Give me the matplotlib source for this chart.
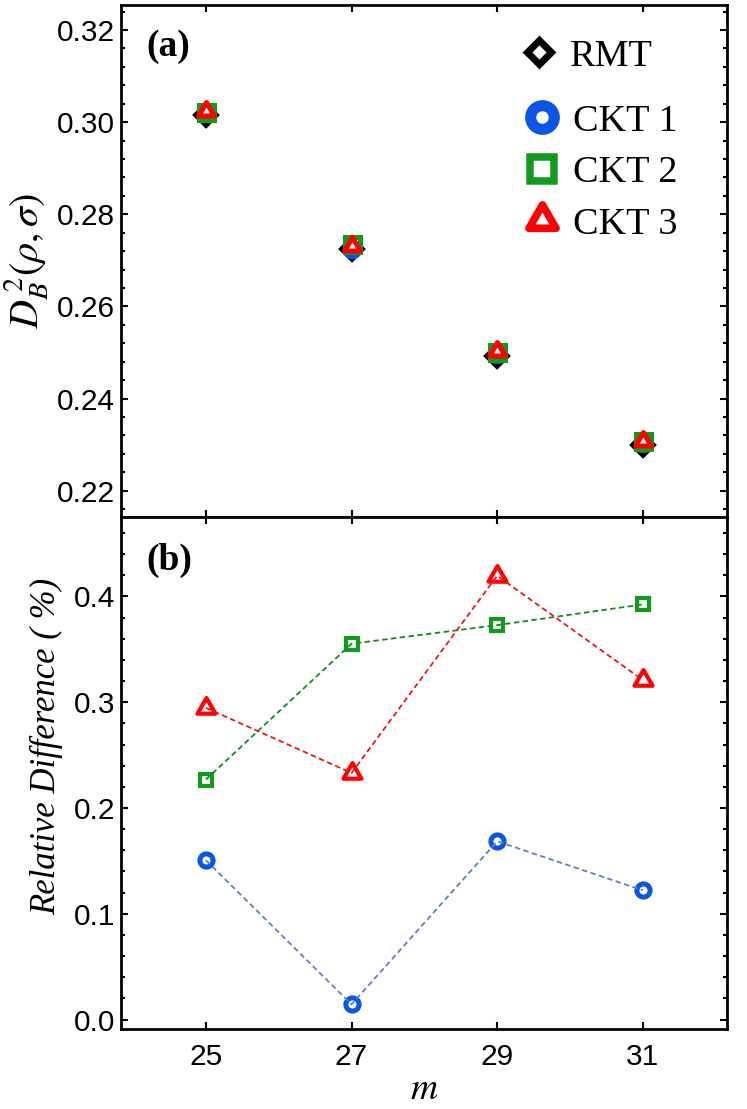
import matplotlib
matplotlib.use("Agg")
import matplotlib.pyplot as plt
from matplotlib.lines import Line2D
from matplotlib.markers import MarkerStyle
from matplotlib.path import Path
from matplotlib.ticker import AutoMinorLocator, FixedLocator

# ---------------- data ----------------
m_values = [25, 27, 29, 31]

# panel (a): squared Bures distance
rmt_db2 = [0.3016, 0.2725, 0.2493, 0.2300]
ckt1_db2 = [0.3021, 0.2725, 0.2497, 0.2303]
ckt2_db2 = [0.3023, 0.2735, 0.2502, 0.2309]
ckt3_db2 = [0.3025, 0.2731, 0.2503, 0.2307]

# panel (b): relative difference (%)
ckt1_rel = [0.1506, 0.0143, 0.1685, 0.1222]
ckt2_rel = [0.2269, 0.3553, 0.3729, 0.3925]
ckt3_rel = [0.2947, 0.2331, 0.4196, 0.3210]

labels = ["RMT", "CKT 1", "CKT 2", "CKT 3"]
xticks = [25, 27, 29, 31]
yticks_a = [0.22, 0.24, 0.26, 0.28, 0.30, 0.32]
yticks_b = [0.0, 0.1, 0.2, 0.3, 0.4]

# ---------------- style ----------------
plt.rcParams["mathtext.fontset"] = "stix"
TICKFONT = "Liberation Sans"
SERIF = "Liberation Serif"

c_black = "#000000"
c_blue = "#0a55e6"
c_blue_line = "#5b80c0"
c_green = "#129a1e"
c_green_line = "#128a1a"
c_red = "#ff0000"
c_red_line = "#f01414"

tri_path = Path([(-1.0, -0.577), (1.0, -0.577), (0.0, 1.155), (-1.0, -0.577)],
                [Path.MOVETO, Path.LINETO, Path.LINETO, Path.CLOSEPOLY])
tri = MarkerStyle(tri_path, joinstyle="miter")
sq = MarkerStyle("s", joinstyle="miter")
dia = MarkerStyle("D", joinstyle="miter")

fig = plt.figure(figsize=(7.47, 11.09), dpi=100)
ax_a = fig.add_axes([0.1616, 0.5334, 0.8120, 0.4624])
ax_b = fig.add_axes([0.1616, 0.0719, 0.8120, 0.4615])

for ax in (ax_a, ax_b):
    for sp in ax.spines.values():
        sp.set_linewidth(2.0)
    ax.set_xlim(23.83, 32.16)
    ax.xaxis.set_major_locator(FixedLocator(xticks))
    ax.tick_params(which="both", direction="in", top=True, right=True,
                   width=1.5, labelsize=21.5, pad=4)
    ax.tick_params(which="major", length=5)
    ax.tick_params(which="minor", length=3.2)
    ax.yaxis.set_minor_locator(AutoMinorLocator(5))

# ---- panel (a) ----
ax_a.set_ylim(0.2142, 0.3255)
ax_a.set_yticks(yticks_a)
ax_a.set_yticklabels([f"{v:.2f}" for v in yticks_a], fontfamily=TICKFONT)
ax_a.tick_params(axis="x", labelbottom=False)

ax_a.plot(m_values, rmt_db2, ls="none", marker=dia, ms=10.7, mew=2.9,
          mec=c_black, mfc="white", zorder=3)
ax_a.plot(m_values, ckt1_db2, ls="none", marker="o", ms=10.5, mew=3.6,
          mec=c_blue, mfc="white", zorder=4)
ax_a.plot(m_values, ckt2_db2, ls="none", marker=sq, ms=10.8, mew=3.6,
          mec=c_green, mfc="white", zorder=5)
ax_a.plot(m_values, ckt3_db2, ls="none", marker=tri, ms=13.0, mew=3.6,
          mec=c_red, mfc="white", zorder=6)

ax_a.set_ylabel(r"$D_B^{\,2}(\rho,\sigma)$", fontsize=29)
ax_a.yaxis.set_label_coords(-0.115, 0.5)
ax_a.text(0.043, 0.919, "(a)", transform=ax_a.transAxes, fontsize=27,
          fontweight="bold", fontfamily=SERIF, va="center", ha="left")

# legend
h_rmt = [Line2D([], [], ls="none", marker=dia, ms=12.7, mew=5.0,
                mec=c_black, mfc="white")]
h_ckt = [Line2D([], [], ls="none", marker="o", ms=17.0, mew=8.0,
                mec=c_blue, mfc="white"),
         Line2D([], [], ls="none", marker=sq, ms=17.6, mew=5.4,
                mec=c_green, mfc="white"),
         Line2D([], [], ls="none", marker=tri, ms=22.5, mew=5.5,
                mec=c_red, mfc="white")]
leg_kw = dict(frameon=False, handlelength=1.0, handletextpad=0.32,
              borderpad=0.0, borderaxespad=0.0,
              prop={"family": SERIF, "size": 27.5})
leg1 = ax_a.legend(h_rmt, labels[:1], loc="center left",
                   bbox_to_anchor=(0.6578, 0.899), **leg_kw)
ax_a.add_artist(leg1)
ax_a.legend(h_ckt, labels[1:], loc="center left",
            bbox_to_anchor=(0.6625, 0.672), labelspacing=0.44, **leg_kw)

# ---- panel (b) ----
ax_b.set_ylim(-0.0092, 0.4747)
ax_b.set_yticks(yticks_b)
ax_b.set_yticklabels([f"{v:.1f}" for v in yticks_b], fontfamily=TICKFONT)
ax_b.set_xticklabels([str(v) for v in xticks], fontfamily=TICKFONT)
ax_b.tick_params(axis="x", pad=10)

dash = (0, (3.0, 1.9))
ax_b.plot(m_values, ckt1_rel, ls=dash, lw=1.3, color=c_blue_line, zorder=3)
ax_b.plot(m_values, ckt2_rel, ls=dash, lw=1.3, color=c_green_line, zorder=3)
ax_b.plot(m_values, ckt3_rel, ls=dash, lw=1.3, color=c_red_line, zorder=3)
ax_b.plot(m_values, ckt1_rel, ls="none", marker="o", ms=9.5, mew=3.6,
          mec=c_blue, mfc="none", zorder=2)
ax_b.plot(m_values, ckt2_rel, ls="none", marker=sq, ms=8.8, mew=3.0,
          mec=c_green, mfc="none", zorder=2)
ax_b.plot(m_values, ckt3_rel, ls="none", marker=tri, ms=15.0, mew=3.0,
          mec=c_red, mfc="none", zorder=2)

ax_b.set_ylabel("Relative Difference ( %)", fontsize=25, fontfamily=SERIF,
                fontstyle="italic")
ax_b.yaxis.set_label_coords(-0.095, 0.553)
ax_b.set_xlabel(r"$m$", fontsize=27, labelpad=0)
ax_b.text(0.043, 0.917, "(b)", transform=ax_b.transAxes, fontsize=27,
          fontweight="bold", fontfamily=SERIF, va="center", ha="left")

fig.savefig("out.png", dpi=100)
